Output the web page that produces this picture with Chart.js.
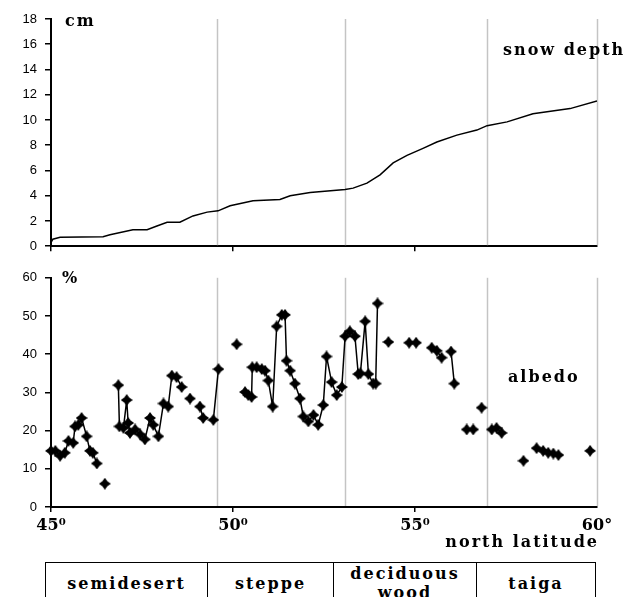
<!DOCTYPE html>
<html>
<head>
<meta charset="utf-8">
<script src="https://cdn.jsdelivr.net/npm/chart.js@4.4.0/dist/chart.umd.min.js"></script>
<style>
    body { margin: 0; background: #fff; }
    #wrap { position: relative; width: 637px; height: 597px; overflow: hidden; background: #fff; }
    canvas { position: absolute; left: 0; }
    #snowChart { top: 0; }
    #albedoChart { top: 262px; }
    table.zones {
        position: absolute; left: 45px; top: 562px; width: 550px;
        border-collapse: collapse; table-layout: fixed;
        font: bold 16px "DejaVu Serif", serif; letter-spacing: 2px; color: #000;
    }
    table.zones td { border: 1.5px solid #000; text-align: center; height: 40px; padding: 0; line-height: 19px; }
</style>
</head>
<body>
<div id="wrap">
    <canvas id="snowChart" width="637" height="262"></canvas>
    <canvas id="albedoChart" width="637" height="293"></canvas>
    <table class="zones">
        <colgroup><col style="width:162px"><col style="width:126px"><col style="width:143px"><col style="width:119px"></colgroup>
        <tr id="zoneRow"></tr>
    </table>
</div>
<script>
// Snow depth (cm) against north latitude
const snowLat = [45.00, 45.05, 45.25, 46.43, 46.62, 47.25, 47.64, 47.91, 48.19, 48.54, 48.90, 49.29, 49.59, 49.92,
    50.55, 51.29, 51.57, 52.12, 53.08, 53.30, 53.68, 54.04, 54.40, 54.78, 55.22, 55.60, 56.15, 56.70, 56.98,
    57.53, 58.24, 59.26, 60.00];
const snowDepth = [0.3, 0.55, 0.7, 0.75, 0.9, 1.3, 1.3, 1.6, 1.9, 1.9, 2.4, 2.7, 2.8, 3.2,
    3.6, 3.7, 4.0, 4.25, 4.5, 4.6, 5.0, 5.65, 6.6, 7.2, 7.75, 8.25, 8.8, 9.2, 9.55,
    9.85, 10.5, 10.9, 11.5];

// Albedo (%) — null marks a break in the line
const albedoLat = [
    45.00, 45.12, 45.25, 45.38, 45.48, 45.61, 45.66, 45.75, 45.84, 45.98, 46.07, 46.15, 46.26, 46.26,
    46.48, 46.48,
    46.85, 46.88, 46.99, 47.08, 47.12, 47.17, 47.31, 47.45, 47.58, 47.72, 47.81, 47.95, 48.09, 48.22, 48.32, 48.45, 48.59, 48.59,
    48.82, 48.82,
    49.09, 49.18, 49.18,
    49.46, 49.60, 49.60,
    50.10, 50.10,
    50.33, 50.42, 50.51, 50.53, 50.65, 50.79, 50.88, 50.97, 51.09, 51.20, 51.34, 51.43, 51.47, 51.57, 51.70, 51.84,
    51.93, 52.07, 52.21, 52.34, 52.48, 52.57, 52.71, 52.85, 52.99, 53.08, 53.21, 53.35, 53.44, 53.50, 53.63, 53.72,
    53.85, 53.92, 53.97, 53.97,
    54.27, 54.27,
    54.84, 55.03, 55.03,
    55.46, 55.60, 55.73, 55.73,
    55.99, 56.08, 56.08,
    56.42, 56.60, 56.60,
    56.83, 56.83,
    57.11, 57.24, 57.38, 57.38,
    57.98, 57.98,
    58.34, 58.52, 58.66, 58.80, 58.94, 58.94,
    59.81
];
const albedoPct = [
    14.7, 14.7, 13.4, 14.2, 17.3, 16.8, 21.1, 21.5, 23.3, 18.5, 14.7, 14.2, 11.4, null,
    6.1, null,
    31.9, 21.1, 20.7, 28.0, 22.0, 19.4, 20.3, 19.0, 17.7, 23.3, 21.5, 18.5, 27.1, 26.3, 34.4, 34.0, 31.4, null,
    28.4, null,
    26.3, 23.3, null,
    22.8, 36.1, null,
    42.6, null,
    30.1, 29.3, 28.8, 36.6, 36.6, 36.1, 35.7, 33.1, 26.3, 47.3, 50.3, 50.3, 38.3, 35.7, 32.3, 28.4,
    23.7, 22.4, 24.1, 21.5, 26.7, 39.4, 32.7, 29.3, 31.4, 44.7, 46.0, 44.7, 34.8, 35.0, 48.6, 34.8,
    32.3, 32.3, 53.3, null,
    43.2, null,
    43.0, 43.0, null,
    41.7, 40.9, 39.1, null,
    40.7, 32.3, null,
    20.3, 20.3, null,
    26.0, null,
    20.3, 20.7, 19.4, null,
    12.1, null,
    15.4, 14.7, 14.2, 14.0, 13.6, null,
    14.7
];

// Vegetation zone borders and names
const zoneEdges = [49.56, 53.08, 56.98, 60.0];
const zoneNames = ["semidesert", "steppe", "deciduous wood", "taiga"];

const xTickValues = [45, 50, 55, 60];
const xTickLabels = ["45\u2070", "50\u2070", "55\u2070", "60\u00b0"];

// Fill the zone table
const zoneRow = document.getElementById("zoneRow");
zoneNames.forEach(name => {
    const td = document.createElement("td");
    td.textContent = name;
    zoneRow.appendChild(td);
});

// Star marker like the original
function makeStar(size) {
    const c = document.createElement("canvas");
    c.width = c.height = size;
    const g = c.getContext("2d");
    const r = size / 2, k = r * 0.42;
    g.translate(r, r);
    g.beginPath();
    g.moveTo(0, -r); g.lineTo(k, -k); g.lineTo(r, 0); g.lineTo(k, k);
    g.lineTo(0, r); g.lineTo(-k, k); g.lineTo(-r, 0); g.lineTo(-k, -k);
    g.closePath();
    g.fillStyle = "#000";
    g.fill();
    return c;
}

// Gray vertical lines at zone borders
const zoneLines = {
    id: "zoneLines",
    beforeDatasetsDraw(chart) {
        const { ctx, chartArea, scales } = chart;
        ctx.save();
        ctx.strokeStyle = "#c4c4c4";
        ctx.lineWidth = 1.5;
        zoneEdges.forEach(v => {
            const x = Math.round(scales.x.getPixelForValue(v)) + 0.5;
            ctx.beginPath();
            ctx.moveTo(x, chartArea.top);
            ctx.lineTo(x, chartArea.bottom - 1);
            ctx.stroke();
        });
        ctx.restore();
    }
};

// Free text labels inside the charts
const notes = {
    id: "notes",
    afterDraw(chart, args, opts) {
        const ctx = chart.ctx;
        ctx.save();
        ctx.font = 'bold 16px "DejaVu Serif"';
        if ("letterSpacing" in ctx) ctx.letterSpacing = "2px";
        ctx.fillStyle = "#000";
        ctx.textBaseline = "middle";
        (opts.items || []).forEach(t => {
            ctx.textAlign = t.align || "left";
            ctx.fillText(t.text, t.x, t.y);
        });
        ctx.restore();
    }
};

function yAxis(max, step) {
    return {
        min: 0, max: max,
        ticks: { stepSize: step, color: "#000", padding: 8, font: { family: "Liberation Sans", size: 13 } },
        grid: { drawOnChartArea: false, drawTicks: true, tickLength: 6, color: "#000", lineWidth: 1.5 },
        border: { color: "#000", width: 2 },
        afterFit: s => { s.width = 51; }
    };
}

function xAxis(showLabels, height) {
    return {
        type: "linear", min: 45, max: 60,
        ticks: {
            stepSize: 5, display: showLabels, color: "#000", padding: 4, maxRotation: 0,
            font: { family: "DejaVu Serif", size: 16, weight: "bold" },
            callback: v => {
                const i = xTickValues.indexOf(v);
                return i >= 0 ? xTickLabels[i] : "";
            }
        },
        grid: {
            drawOnChartArea: false, drawTicks: true, tickLength: 5, lineWidth: 1.5,
            color: c => (c.tick && c.tick.value === 60) ? "rgba(0,0,0,0)" : "#000"
        },
        border: { color: "#000", width: 2 },
        afterFit: s => { s.height = height; }
    };
}

const snowPoints = snowLat.map((x, i) => ({ x: x, y: snowDepth[i] }));
const albedoPoints = albedoLat.map((x, i) => ({ x: x, y: albedoPct[i] }));

new Chart(document.getElementById("snowChart").getContext("2d"), {
    type: "line",
    data: {
        datasets: [{
            label: "snow depth",
            data: snowPoints,
            borderColor: "#000",
            borderWidth: 1.5,
            pointRadius: 0,
            tension: 0,
            fill: false
        }]
    },
    options: {
        responsive: false,
        animation: false,
        layout: { padding: { left: 0, right: 40, top: 19, bottom: 0 } },
        scales: { x: xAxis(false, 13), y: yAxis(18, 2) },
        plugins: {
            legend: { display: false },
            tooltip: { enabled: false },
            notes: { items: [
                { text: "cm", x: 65, y: 22 },
                { text: "snow depth", x: 503, y: 51 }
            ] }
        }
    },
    plugins: [zoneLines, notes]
});

new Chart(document.getElementById("albedoChart").getContext("2d"), {
    type: "line",
    data: {
        datasets: [{
            label: "albedo",
            data: albedoPoints,
            borderColor: "#000",
            borderWidth: 1.5,
            pointStyle: makeStar(12),
            pointRadius: 6,
            spanGaps: false,
            tension: 0,
            fill: false,
            clip: false
        }]
    },
    options: {
        responsive: false,
        animation: false,
        layout: { padding: { left: 0, right: 40, top: 12, bottom: 0 } },
        scales: { x: xAxis(true, 48), y: yAxis(60, 10) },
        plugins: {
            legend: { display: false },
            tooltip: { enabled: false },
            notes: { items: [
                { text: "%", x: 62, y: 17 },
                { text: "albedo", x: 508, y: 116 },
                { text: "north latitude", x: 599, y: 281, align: "right" }
            ] }
        }
    },
    plugins: [zoneLines, notes]
});
</script>
</body>
</html>
